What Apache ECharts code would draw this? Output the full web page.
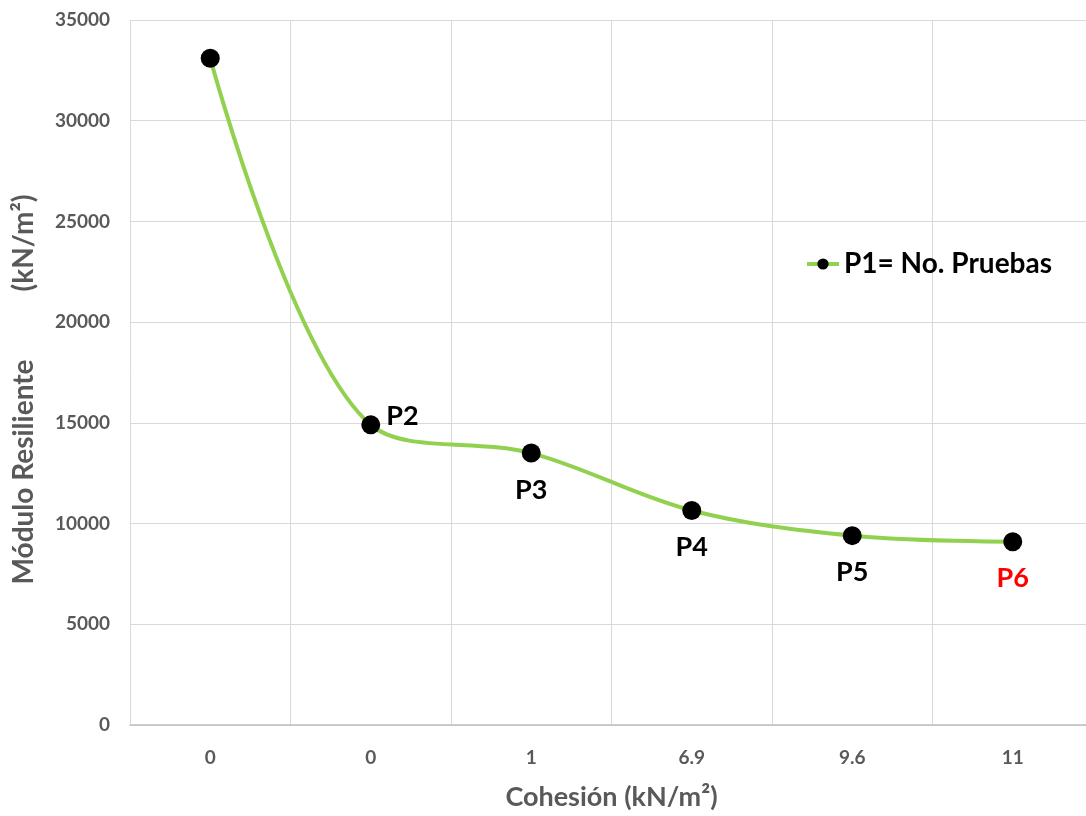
<!DOCTYPE html>
<html>
<head>
<meta charset="utf-8">
<script src="https://cdn.jsdelivr.net/npm/echarts@6/dist/echarts.min.js"></script>
<style>html,body{margin:0;padding:0;background:#fff;overflow:hidden;width:1086px;height:816px;}#c{width:1093px;height:816px;}</style>
</head>
<body>
<div id="c"></div>
<script>
const categories = ['0', '0', '1', '6.9', '9.6', '11'];
const moduloValues = [33100, 14900, 13500, 10650, 9400, 9100];
const pointLabels = ['', 'P2', 'P3', 'P4', 'P5', 'P6'];
const labelPositions = ['right', 'right', 'bottom', 'bottom', 'bottom', 'bottom'];
const labelColors = ['#000', '#000', '#000', '#000', '#000', '#ff0000'];
const seriesName = 'P1= No. Pruebas';
const yAxisTitle = 'Módulo Resiliente          (kN/m²)';
const xAxisTitle = 'Cohesión (kN/m²)';

const FONT = 'Lato';
const chart = echarts.init(document.getElementById('c'));
chart.setOption({
  animation: false,
  backgroundColor: '#fff',
  textStyle: { fontFamily: FONT },
  grid: { left: 130, top: 20, right: 0, bottom: 90, containLabel: false },
  legend: {
    data: [seriesName],
    left: 800, top: 245,
    itemWidth: 32, itemHeight: 14, itemGap: 8,
    lineStyle: { width: 4, color: '#92d050' },
    textStyle: { fontFamily: FONT, fontWeight: 'bold', fontSize: 28, color: '#000' }
  },
  xAxis: {
    type: 'category',
    data: categories,
    boundaryGap: true,
    name: xAxisTitle,
    nameLocation: 'middle',
    nameGap: 59,
    nameTextStyle: { fontFamily: FONT, fontWeight: 'bold', fontSize: 27, color: '#595959' },
    axisLine: { show: true, lineStyle: { color: '#bfbfbf', width: 1.5 } },
    axisTick: { show: false },
    axisLabel: { margin: 23, fontFamily: FONT, fontWeight: 'bold', fontSize: 19, color: '#595959' },
    splitLine: { show: true, lineStyle: { color: '#d9d9d9', width: 1 } }
  },
  yAxis: {
    type: 'value',
    min: 0, max: 35000, interval: 5000,
    name: yAxisTitle,
    nameLocation: 'middle',
    nameGap: 92,
    nameRotate: 90,
    nameTextStyle: { fontFamily: FONT, fontWeight: 'bold', fontSize: 28, color: '#595959', padding: [0, 34, 0, 0] },
    axisLine: { show: false },
    axisTick: { show: false },
    axisLabel: { margin: 20, fontFamily: FONT, fontWeight: 'bold', fontSize: 19, color: '#595959', formatter: v => String(v) },
    splitLine: { show: true, lineStyle: { color: '#d9d9d9', width: 1 } }
  },
  series: [{
    name: seriesName,
    type: 'line',
    smooth: 0.35,
    symbol: 'circle',
    symbolSize: 19,
    lineStyle: { color: '#92d050', width: 4 },
    itemStyle: { color: '#000' },
    data: moduloValues.map((v, i) => ({
      value: v,
      label: {
        show: pointLabels[i] !== '',
        formatter: pointLabels[i],
        position: labelPositions[i],
        distance: labelPositions[i] === 'right' ? 6 : 14,
        offset: labelPositions[i] === 'right' ? [0, -9] : [0, 0],
        color: labelColors[i],
        fontFamily: FONT, fontWeight: 'bold', fontSize: 27
      }
    }))
  }]
});
</script>
</body>
</html>
